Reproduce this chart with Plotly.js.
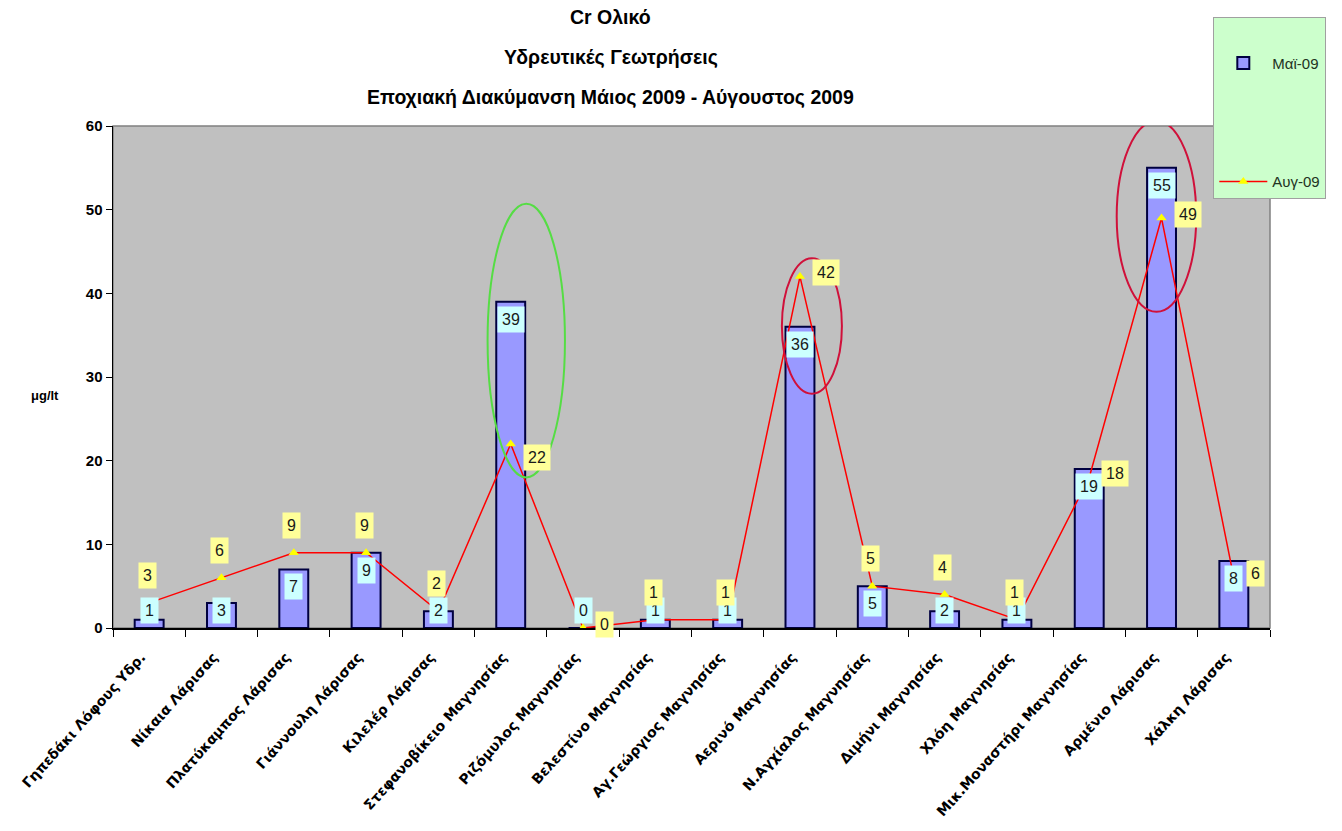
<!DOCTYPE html>
<html>
<head>
<meta charset="utf-8">
<script src="https://cdn.plot.ly/plotly-3.0.1.min.js"></script>
<style>html,body{margin:0;padding:0;background:#fff;}</style>
</head>
<body>
<div id="chart" style="width:1342px;height:831px;"></div>
<script>
// ---- data ----
const categories = [
  "Γηπεδάκι Λόφους Υδρ.",
  "Νίκαια Λάρισας",
  "Πλατύκαμπος Λάρισας",
  "Γιάννουλη Λάρισας",
  "Κιλελέρ Λάρισας",
  "Στεφανοβίκειο Μαγνησίας",
  "Ριζόμυλος Μαγνησίας",
  "Βελεστίνο Μαγνησίας",
  "Αγ.Γεώργιος Μαγνησίας",
  "Αερινό Μαγνησίας",
  "Ν.Αγχίαλος Μαγνησίας",
  "Διμήνι Μαγνησίας",
  "Χλόη Μαγνησίας",
  "Μικ.Μοναστήρι Μαγνησίας",
  "Αρμένιο Λάρισας",
  "Χάλκη Λάρισας"
];
const seriesNames = ["Μαϊ-09", "Αυγ-09"];
const mai09 = [1, 3, 7, 9, 2, 39, 0, 1, 1, 36, 5, 2, 1, 19, 55, 8];
const aug09 = [3, 6, 9, 9, 2, 22, 0, 1, 1, 42, 5, 4, 1, 18, 49, 6];
const titleLines = ["Cr Ολικό", "Υδρευτικές Γεωτρήσεις", "Εποχιακή Διακύμανση Μάιος 2009 - Αύγουστος 2009"];
const yTitle = "μg/lt";
const yTicks = [0, 10, 20, 30, 40, 50, 60];

// ---- styles ----
const lineLabelSide = ['t','t','t','t','t','rb','r','t','t','r','t','t','t','r','r','r'];
const highlights = [
  {cat: 5, color: '#55dd44', dx0: -0.32, dx1: 0.75, ylo: 18, yhi: 50.7},
  {cat: 9, color: '#d0103a', dx0: -0.25, dx1: 0.58, ylo: 28, yhi: 44.2},
  {cat: 14, color: '#d0103a', dx0: -0.62, dx1: 0.48, ylo: 37.8, yhi: 60.6}
];
const labelFont = {family: 'Liberation Sans, Arial', size: 16, color: '#1a1a1a'};

const idx = categories.map((c, i) => i);

const barTrace = {
  type: 'bar', name: seriesNames[0], x: idx, y: mai09,
  marker: {color: '#9999ff', line: {color: '#000040', width: 2}},
  legendgroup: 'a', hoverinfo: 'skip'
};
const lineTrace = {
  type: 'scatter', mode: 'lines+markers', name: seriesNames[1], x: idx, y: aug09,
  line: {color: '#ff0000', width: 1.5},
  marker: {symbol: 'triangle-up', color: '#ffff00', size: 9},
  legendgroup: 'b', hoverinfo: 'skip'
};

const annotations = [];
mai09.forEach((v, i) => {
  const small = v < 4;
  annotations.push({
    x: i, y: small ? 0 : v, xref: 'x', yref: 'y', text: String(v), showarrow: false,
    yanchor: small ? 'bottom' : 'top', yshift: small ? 4 : -4,
    bgcolor: '#ccffff', borderpad: 4, font: labelFont
  });
});
aug09.forEach((v, i) => {
  const side = lineLabelSide[i];
  const right = side !== 't';
  annotations.push({
    x: i, y: v, xref: 'x', yref: 'y', text: String(v), showarrow: false,
    xanchor: right ? 'left' : 'center',
    yanchor: right ? 'middle' : 'bottom',
    xshift: right ? 12 : -2,
    yshift: side === 'rb' ? -14 : (right ? 4 : 14),
    bgcolor: '#ffff99', borderpad: 4, font: labelFont
  });
});
const titleY = [1.217, 1.137, 1.058];
titleLines.forEach((t, k) => {
  annotations.push({
    x: 0.43, y: titleY[k], xref: 'paper', yref: 'paper', text: '<b>' + t + '</b>',
    showarrow: false, xanchor: 'center', yanchor: 'middle',
    font: {family: 'Liberation Sans, Arial', size: 19.5, color: '#000'}
  });
});
annotations.push({
  x: -0.059, y: 0.464, xref: 'paper', yref: 'paper', text: '<b>' + yTitle + '</b>',
  showarrow: false, xanchor: 'center', yanchor: 'middle',
  font: {family: 'Liberation Sans, Arial', size: 13, color: '#000'}
});

const shapes = [
  {type: 'rect', xref: 'paper', yref: 'paper', x0: 0, x1: 1, y0: 0, y1: 1,
   line: {color: '#808080', width: 1.5}, layer: 'below'}
];
highlights.forEach(h => {
  shapes.push({
    type: 'circle', xref: 'x', yref: 'y',
    x0: h.cat + h.dx0, x1: h.cat + h.dx1, y0: h.ylo, y1: h.yhi,
    line: {color: h.color, width: 2}, layer: 'above'
  });
});

const layout = {
  width: 1342, height: 831,
  margin: {l: 113, r: 72, t: 126, b: 203},
  paper_bgcolor: '#ffffff',
  plot_bgcolor: '#c0c0c0',
  bargap: 0.6,
  showlegend: true,
  legend: {
    x: 0.951, y: 1.217, xanchor: 'left', yanchor: 'top',
    bgcolor: '#ccffcc', bordercolor: '#a0a0a0', borderwidth: 1,
    font: {family: 'Liberation Sans, Arial', size: 15, color: '#223322'},
    title: {text: '\u00a0', font: {size: 22}},
    traceorder: 'grouped', tracegroupgap: 96, itemwidth: 48
  },
  xaxis: {
    type: 'linear', range: [-0.5, categories.length - 0.5],
    tickmode: 'array', tickvals: idx, ticktext: categories,
    tickangle: -48, showgrid: false, zeroline: false,
    showline: true, linecolor: '#000', linewidth: 1.5,
    ticks: '', ticklabelstandoff: 14, ticklabelshift: -8,
    minor: {tick0: 0.5, dtick: 1, ticks: 'outside', ticklen: 7, tickcolor: '#000', showgrid: false},
    tickfont: {family: 'DejaVu Sans', size: 14, color: '#000', weight: 'bold'}
  },
  yaxis: {
    range: [0, 60], tickmode: 'array', tickvals: yTicks,
    showgrid: false, zeroline: false,
    showline: true, linecolor: '#000', linewidth: 1.5,
    ticks: 'outside', ticklen: 6, tickcolor: '#000',
    tickfont: {family: 'Liberation Sans, Arial', size: 15, color: '#000', weight: 'bold'}
  },
  annotations: annotations,
  shapes: shapes
};

Plotly.newPlot('chart', [barTrace, lineTrace], layout, {displayModeBar: false, staticPlot: true});
</script>
</body>
</html>
